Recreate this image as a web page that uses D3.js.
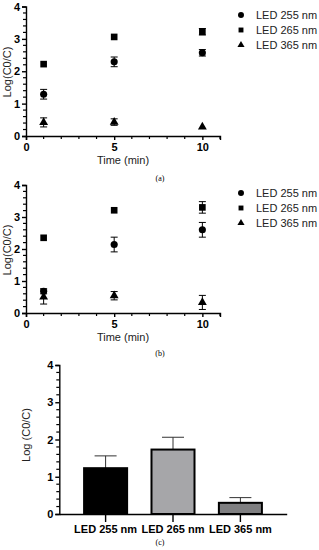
<!DOCTYPE html>
<html>
<head>
<meta charset="utf-8">
<script src="https://cdn.jsdelivr.net/npm/d3@7"></script>
<style>
  body { margin: 0; background: #fff; }
  text { font-family: "Liberation Sans", Arial, sans-serif; }
</style>
</head>
<body>
<script>
// data
const times = [1, 5, 10];
const seriesNames = ['LED 255 nm', 'LED 265 nm', 'LED 365 nm'];
const symbols = ['circle', 'square', 'triangle'];

// panel (a)
const aMean = [
  [1.29, 2.29, 2.57],
  [2.22, 3.06, 3.22],
  [0.42, 0.43, 0.28]
];
const aErr = [
  [0.15, 0.15, 0.1],
  [0.03, 0.03, 0.1],
  [0.14, 0.1, 0.03]
];

// panel (b)
const bMean = [
  [0.68, 2.14, 2.6],
  [2.35, 3.21, 3.3],
  [0.5, 0.54, 0.33]
];
const bErr = [
  [0.08, 0.23, 0.23],
  [0.03, 0.03, 0.18],
  [0.22, 0.13, 0.22]
];

// panel (c)
const barLabels = ['LED 255 nm', 'LED 265 nm', 'LED 365 nm'];
const barValues = [1.23, 1.73, 0.3];
const barErr = [0.33, 0.33, 0.14];
const barColors = ['#000000', '#a6a6a9', '#7f7f81'];

const svg = d3.select("body").append("svg")
  .attr("width", 319)
  .attr("height", 550);

const symGen = {
  circle: d3.symbol().type(d3.symbolCircle).size(40),
  square: d3.symbol().type(d3.symbolSquare).size(44),
  triangle: d3.symbol().type(d3.symbolTriangle).size(34)
};

function yAxisMinor(g, y, x0) {
  // minor ticks every 0.2
  const minor = d3.range(0, 4.01, 0.2).filter(v => Math.abs(v - Math.round(v)) > 0.01);
  g.selectAll(".ymin").data(minor).join("line")
    .attr("x1", x0).attr("x2", x0 - 3)
    .attr("y1", d => y(d)).attr("y2", d => y(d))
    .attr("stroke", "#000").attr("stroke-width", 1.2);
}

function scatterPanel(top, bottom, mean, err, legendY, yTitleY, xTitleY, tag, tagY) {
  const x = d3.scaleLinear().domain([0, 11]).range([26, 220]);
  const y = d3.scaleLinear().domain([0, 4]).range([bottom, top]);
  const g = svg.append("g");

  // y axis
  g.append("g")
    .attr("transform", "translate(26,0)")
    .call(d3.axisLeft(y).tickValues([0, 1, 2, 3, 4]).tickFormat(d3.format("d")).tickSize(4).tickPadding(2))
    .call(a => a.select(".domain").attr("stroke-width", 1.4))
    .call(a => a.selectAll(".tick line").attr("stroke-width", 1.4))
    .call(a => a.selectAll("text").attr("font-size", 11).attr("font-weight", "bold").attr("font-family", "Liberation Sans, Arial, sans-serif"));
  yAxisMinor(g, y, 26);

  // x axis
  g.append("g")
    .attr("transform", `translate(0,${bottom})`)
    .call(d3.axisBottom(x).tickValues([0, 5, 10]).tickSize(4).tickPadding(3))
    .call(a => a.select(".domain").attr("stroke-width", 1.4))
    .call(a => a.selectAll(".tick line").attr("stroke-width", 1.4))
    .call(a => a.selectAll("text").attr("font-size", 11).attr("font-weight", "bold").attr("font-family", "Liberation Sans, Arial, sans-serif"));
  g.selectAll(".xmin").data([1, 2, 3, 4, 6, 7, 8, 9, 11]).join("line")
    .attr("x1", d => x(d)).attr("x2", d => x(d))
    .attr("y1", bottom).attr("y2", bottom + 3)
    .attr("stroke", "#000").attr("stroke-width", 1.2);

  // points with error bars
  mean.forEach((row, si) => {
    row.forEach((v, ti) => {
      const cx = x(times[ti]);
      const e = err[si][ti];
      if (e > 0.05) {
        g.append("line").attr("x1", cx).attr("x2", cx)
          .attr("y1", y(v - e)).attr("y2", y(v + e))
          .attr("stroke", "#000").attr("stroke-width", 1);
        [v - e, v + e].forEach(c => {
          g.append("line").attr("x1", cx - 3.5).attr("x2", cx + 3.5)
            .attr("y1", y(c)).attr("y2", y(c))
            .attr("stroke", "#000").attr("stroke-width", 1);
        });
      }
      g.append("path")
        .attr("d", symGen[symbols[si]]())
        .attr("transform", `translate(${cx},${y(v)})`)
        .attr("fill", "#000");
    });
  });

  // legend
  seriesNames.forEach((name, i) => {
    const ly = legendY + i * 15;
    const s = d3.symbol().type([d3.symbolCircle, d3.symbolSquare, d3.symbolTriangle][i]).size([28, 24, 22][i]);
    g.append("path").attr("d", s()).attr("transform", `translate(241,${ly})`).attr("fill", "#000");
    g.append("text").attr("x", 256).attr("y", ly + 4).attr("font-size", 11).attr("fill", "#222").text(name);
  });

  // titles
  g.append("text").attr("x", 123).attr("y", xTitleY).attr("text-anchor", "middle")
    .attr("font-size", 11).attr("fill", "#222").text("Time (min)");
  g.append("text").attr("transform", `translate(11,${yTitleY}) rotate(-90)`)
    .attr("text-anchor", "middle").attr("font-size", 11).attr("fill", "#222").text("Log(C0/C)");
  svg.append("text").attr("x", 160).attr("y", tagY).attr("text-anchor", "middle")
    .attr("font-size", 8).style("font-family", "Liberation Serif, serif")
    .text(tag);
}

scatterPanel(6.5, 136, aMean, aErr, 15, 72, 164, "(a)", 181);
scatterPanel(185, 313, bMean, bErr, 193, 250, 341, "(b)", 356);

// panel (c) bar chart
const xb = d3.scaleBand().domain(barLabels).range([59.3, 286.7]).paddingInner(0.332).paddingOuter(0.353);
const yb = d3.scaleLinear().domain([0, 4]).range([514, 365]);
const gc = svg.append("g");

gc.append("g")
  .attr("transform", "translate(59.3,0)")
  .call(d3.axisLeft(yb).tickValues([0, 1, 2, 3, 4]).tickFormat(d3.format("d")).tickSize(4).tickPadding(2))
  .call(a => a.select(".domain").attr("stroke-width", 1.4))
  .call(a => a.selectAll(".tick line").attr("stroke-width", 1.4))
  .call(a => a.selectAll("text").attr("font-size", 11).attr("font-weight", "bold").attr("font-family", "Liberation Sans, Arial, sans-serif"));
yAxisMinor(gc, yb, 59.3);

// error bars (upper only)
barLabels.forEach((lab, i) => {
  const cx = xb(lab) + xb.bandwidth() / 2;
  gc.append("line").attr("x1", cx).attr("x2", cx)
    .attr("y1", yb(barValues[i])).attr("y2", yb(barValues[i] + barErr[i]))
    .attr("stroke", "#333").attr("stroke-width", 1);
  gc.append("line").attr("x1", cx - 11).attr("x2", cx + 11)
    .attr("y1", yb(barValues[i] + barErr[i])).attr("y2", yb(barValues[i] + barErr[i]))
    .attr("stroke", "#333").attr("stroke-width", 1);
});

gc.selectAll(".bar").data(barValues).join("rect")
  .attr("x", (d, i) => xb(barLabels[i]) + 1)
  .attr("width", xb.bandwidth() - 2)
  .attr("y", d => yb(d))
  .attr("height", d => yb(0) - yb(d))
  .attr("fill", (d, i) => barColors[i])
  .attr("stroke", "#000").attr("stroke-width", 2);

gc.append("g")
  .attr("transform", "translate(0,514)")
  .call(d3.axisBottom(xb).tickSize(8).tickPadding(3).tickSizeOuter(0))
  .call(a => a.select(".domain").attr("stroke-width", 1.4))
  .call(a => a.selectAll(".tick line").attr("stroke-width", 1.4))
  .call(a => a.selectAll("text").attr("font-size", 11).attr("font-weight", "bold").attr("font-family", "Liberation Sans, Arial, sans-serif"));

gc.append("text").attr("transform", "translate(30,435) rotate(-90)")
  .attr("text-anchor", "middle").attr("font-size", 11).attr("fill", "#222").text("Log (C0/C)");
svg.append("text").attr("x", 160).attr("y", 545).attr("text-anchor", "middle")
  .attr("font-size", 8).style("font-family", "Liberation Serif, serif").text("(c)");
</script>
</body>
</html>
